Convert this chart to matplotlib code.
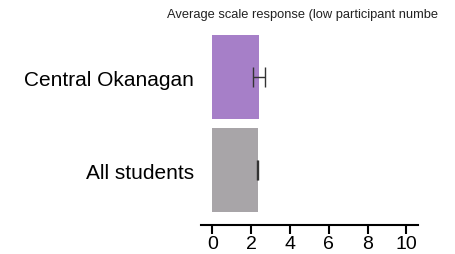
import matplotlib
matplotlib.use("Agg")
import matplotlib.pyplot as plt

# data
groups = ["All students", "Central Okanagan"]
means = [2.34, 2.39]
errors = [0.02, 0.31]
bar_colours = ["#a8a5a8", "#a67fc8"]
x_ticks = [0, 2, 4, 6, 8, 10]

plt.rcParams['font.family'] = ['Liberation Sans', 'DejaVu Sans']

fig = plt.figure(figsize=(4.56, 2.55), dpi=100)
ax = fig.add_axes([201 / 456, 29 / 255, 216.7 / 456, 194.4 / 255])

ypos = list(range(len(groups)))
ax.barh(ypos, means, height=0.9, color=bar_colours)
ax.errorbar(means, ypos, xerr=errors, fmt='none', ecolor='#333333',
            elinewidth=1.0, capsize=7.2, capthick=1.0)

ax.set_xlim(-0.58, 10.58)
ax.set_ylim(-0.59, 1.5)
ax.set_xticks(x_ticks)
ax.set_xticklabels([str(t) for t in x_ticks], fontsize=14)
ax.set_yticks(ypos)
ax.set_yticklabels(groups, fontsize=15)

for s in ['top', 'right', 'left']:
    ax.spines[s].set_visible(False)
ax.spines['bottom'].set_linewidth(1.5)
ax.tick_params(axis='x', length=6.5, width=1.5, pad=0.5)
ax.tick_params(axis='y', length=0, pad=5)

fig.text(167 / 456, 1 - 15 / 255, "Average scale response (low participant numbe",
         fontsize=9.3, ha='left', va='center', color='#222222')

fig.savefig("out.png", dpi=100)
